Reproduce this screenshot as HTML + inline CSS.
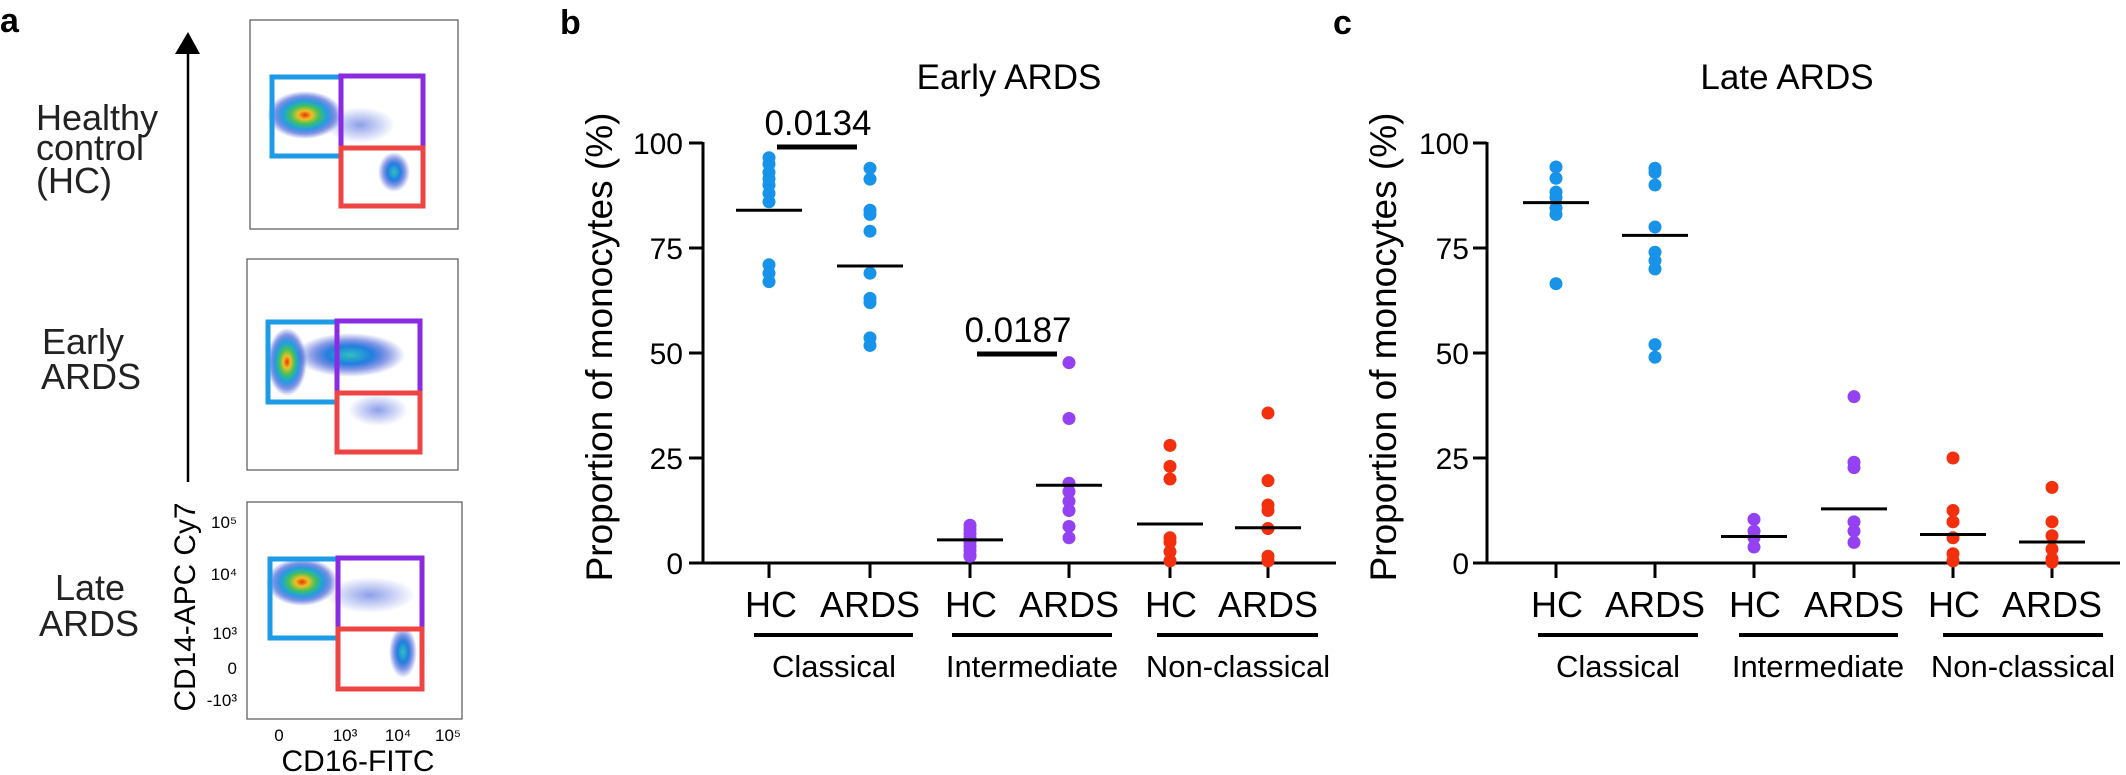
<!DOCTYPE html>
<html><head><meta charset="utf-8"><style>
body{margin:0;background:#fff;}
svg{display:block;font-family:"Liberation Sans",Arial,sans-serif;}
</style></head><body>
<svg width="2126" height="775" viewBox="0 0 2126 775" xmlns="http://www.w3.org/2000/svg">
<defs>
<radialGradient id="hot"><stop offset="0" stop-color="#e83010"/><stop offset="0.18" stop-color="#f0c020"/><stop offset="0.38" stop-color="#40c060"/><stop offset="0.58" stop-color="#20a0e0"/><stop offset="0.8" stop-color="#2040d0" stop-opacity="0.55"/><stop offset="1" stop-color="#2040d0" stop-opacity="0"/></radialGradient>
<radialGradient id="cool"><stop offset="0" stop-color="#30c0c0"/><stop offset="0.4" stop-color="#2080e0"/><stop offset="0.7" stop-color="#2040d0" stop-opacity="0.5"/><stop offset="1" stop-color="#2040d0" stop-opacity="0"/></radialGradient>
<radialGradient id="faint"><stop offset="0" stop-color="#3050d8" stop-opacity="0.55"/><stop offset="1" stop-color="#3050d8" stop-opacity="0"/></radialGradient>
</defs>
<g font-weight="bold" font-size="34"><text x="0" y="32">a</text><text x="560" y="34">b</text><text x="1333" y="34">c</text></g>

<!-- panel a -->
<g font-size="36" fill="#222">
<text x="36" y="130">Healthy</text><text x="36" y="160">control</text><text x="36" y="193">(HC)</text>
<text x="83" y="354" text-anchor="middle">Early</text><text x="91" y="389" text-anchor="middle">ARDS</text>
<text x="90" y="600" text-anchor="middle">Late</text><text x="89" y="636" text-anchor="middle">ARDS</text>
</g>
<line x1="188" y1="50" x2="188" y2="482" stroke="#000" stroke-width="2.5"/>
<polygon points="175,54 200,54 188,32" fill="#000"/>
<text transform="translate(195,607) rotate(-90)" font-size="30" text-anchor="middle" textLength="209" lengthAdjust="spacingAndGlyphs">CD14-APC Cy7</text>
<text x="358" y="771" font-size="30" text-anchor="middle" textLength="153" lengthAdjust="spacingAndGlyphs">CD16-FITC</text>
<g font-size="17" text-anchor="end"><text x="237" y="528">10⁵</text><text x="237" y="580">10⁴</text><text x="237" y="639">10³</text><text x="237" y="674">0</text><text x="237" y="706">-10³</text></g>
<g font-size="17" text-anchor="middle"><text x="279" y="741">0</text><text x="345" y="741">10³</text><text x="398" y="741">10⁴</text><text x="448" y="741">10⁵</text></g>

<rect x="250" y="20" width="208" height="209" fill="#fff" stroke="#555" stroke-width="1.2"/>
<ellipse cx="305" cy="115" rx="38" ry="24" fill="url(#hot)"/>
<ellipse cx="360" cy="125" rx="35" ry="18" fill="url(#faint)"/>
<ellipse cx="394" cy="172" rx="16" ry="20" fill="url(#cool)"/>
<rect x="272" y="77" width="69" height="79" fill="none" stroke="#1e9be6" stroke-width="5"/>
<rect x="341" y="76" width="82" height="72" fill="none" stroke="#8a2be2" stroke-width="5"/>
<rect x="341" y="148" width="82" height="58" fill="none" stroke="#ee4444" stroke-width="5"/>

<rect x="247" y="259" width="211" height="211" fill="#fff" stroke="#555" stroke-width="1.2"/>
<ellipse cx="287" cy="362" rx="20" ry="34" fill="url(#hot)"/>
<ellipse cx="350" cy="355" rx="55" ry="22" fill="url(#cool)"/>
<ellipse cx="378" cy="410" rx="30" ry="16" fill="url(#faint)"/>
<rect x="268" y="322" width="69" height="80" fill="none" stroke="#1e9be6" stroke-width="5"/>
<rect x="337" y="321" width="83" height="72" fill="none" stroke="#8a2be2" stroke-width="5"/>
<rect x="337" y="393" width="83" height="59" fill="none" stroke="#ee4444" stroke-width="5"/>

<rect x="247" y="502" width="215" height="217" fill="#fff" stroke="#555" stroke-width="1.2"/>
<ellipse cx="302" cy="582" rx="36" ry="24" fill="url(#hot)"/>
<ellipse cx="370" cy="595" rx="45" ry="18" fill="url(#faint)"/>
<ellipse cx="403" cy="652" rx="14" ry="26" fill="url(#cool)"/>
<rect x="270" y="559" width="68" height="79" fill="none" stroke="#1e9be6" stroke-width="5"/>
<rect x="338" y="558" width="84" height="71" fill="none" stroke="#8a2be2" stroke-width="5"/>
<rect x="338" y="629" width="84" height="60" fill="none" stroke="#ee4444" stroke-width="5"/>

<!-- panel b -->
<text x="1009" y="89" font-size="35" text-anchor="middle">Early ARDS</text>
<text transform="translate(612,347) rotate(-90)" font-size="37" text-anchor="middle">Proportion of monocytes (%)</text>
<g stroke="#000" stroke-width="3" fill="none">
<line x1="703" y1="142" x2="703" y2="564"/>
<line x1="701" y1="563" x2="1336" y2="563"/>
<line x1="689" y1="143" x2="703" y2="143"/><line x1="689" y1="248" x2="703" y2="248"/><line x1="689" y1="353" x2="703" y2="353"/><line x1="689" y1="458" x2="703" y2="458"/><line x1="689" y1="563" x2="703" y2="563"/>
<line x1="769" y1="563" x2="769" y2="578"/><line x1="870" y1="563" x2="870" y2="578"/><line x1="970" y1="563" x2="970" y2="578"/><line x1="1069" y1="563" x2="1069" y2="578"/><line x1="1170" y1="563" x2="1170" y2="578"/><line x1="1268" y1="563" x2="1268" y2="578"/>
<line x1="754" y1="635" x2="913" y2="635" stroke-width="4"/><line x1="952" y1="635" x2="1112" y2="635" stroke-width="4"/><line x1="1157" y1="635" x2="1318" y2="635" stroke-width="4"/>
<line x1="777" y1="147" x2="857" y2="147" stroke-width="5"/>
<line x1="977" y1="354" x2="1057" y2="354" stroke-width="5"/>
</g>
<g font-size="30" text-anchor="end"><text x="683" y="154">100</text><text x="683" y="259">75</text><text x="683" y="364">50</text><text x="683" y="469">25</text><text x="683" y="574">0</text></g>
<text x="818" y="135" font-size="35" text-anchor="middle">0.0134</text>
<text x="1018" y="342" font-size="35" text-anchor="middle">0.0187</text>
<g font-size="36" text-anchor="middle"><text x="771" y="617">HC</text><text x="870" y="617">ARDS</text><text x="971" y="617">HC</text><text x="1069" y="617">ARDS</text><text x="1171" y="617">HC</text><text x="1268" y="617">ARDS</text></g>
<g font-size="31" text-anchor="middle"><text x="834" y="677">Classical</text><text x="1032" y="677">Intermediate</text><text x="1238" y="677">Non-classical</text></g>

<!-- panel c -->
<text x="1787" y="89" font-size="35" text-anchor="middle">Late ARDS</text>
<text transform="translate(1396,347) rotate(-90)" font-size="37" text-anchor="middle">Proportion of monocytes (%)</text>
<g stroke="#000" stroke-width="3" fill="none">
<line x1="1487" y1="142" x2="1487" y2="564"/>
<line x1="1485" y1="563" x2="2120" y2="563"/>
<line x1="1473" y1="143" x2="1487" y2="143"/><line x1="1473" y1="248" x2="1487" y2="248"/><line x1="1473" y1="353" x2="1487" y2="353"/><line x1="1473" y1="458" x2="1487" y2="458"/><line x1="1473" y1="563" x2="1487" y2="563"/>
<line x1="1556" y1="563" x2="1556" y2="578"/><line x1="1655" y1="563" x2="1655" y2="578"/><line x1="1754" y1="563" x2="1754" y2="578"/><line x1="1854" y1="563" x2="1854" y2="578"/><line x1="1953" y1="563" x2="1953" y2="578"/><line x1="2052" y1="563" x2="2052" y2="578"/>
<line x1="1538" y1="635" x2="1698" y2="635" stroke-width="4"/><line x1="1739" y1="635" x2="1898" y2="635" stroke-width="4"/><line x1="1943" y1="635" x2="2103" y2="635" stroke-width="4"/>
</g>
<g font-size="30" text-anchor="end"><text x="1469" y="154">100</text><text x="1469" y="259">75</text><text x="1469" y="364">50</text><text x="1469" y="469">25</text><text x="1469" y="574">0</text></g>
<g font-size="36" text-anchor="middle"><text x="1557" y="617">HC</text><text x="1655" y="617">ARDS</text><text x="1755" y="617">HC</text><text x="1854" y="617">ARDS</text><text x="1954" y="617">HC</text><text x="2052" y="617">ARDS</text></g>
<g font-size="31" text-anchor="middle"><text x="1618" y="677">Classical</text><text x="1818" y="677">Intermediate</text><text x="2023" y="677">Non-classical</text></g>

<g id="pts"></g>
<script>
(function(){
var g=document.getElementById('pts'),ns='http://www.w3.org/2000/svg';
function Y(v){return 563-v*4.2;}
function grp(x,vals,mean,col){
 vals.forEach(function(v){var c=document.createElementNS(ns,'circle');c.setAttribute('cx',x);c.setAttribute('cy',Y(v));c.setAttribute('r',6.5);c.setAttribute('fill',col);g.appendChild(c);});
 var l=document.createElementNS(ns,'line');l.setAttribute('x1',x-33);l.setAttribute('x2',x+33);l.setAttribute('y1',Y(mean));l.setAttribute('y2',Y(mean));l.setAttribute('stroke','#000');l.setAttribute('stroke-width',3);g.appendChild(l);
}
var B='#1793ea',P='#9341f2',R='#f2300e';
grp(769,[96.5,95,93,91.5,90,88,86,71,69,67],84,B);
grp(870,[94,91.4,84,83,79,69,63,62,53.6,51.8],70.7,B);
grp(970,[9,8,7,6,5,4,3,2,1.6],5.5,P);
grp(1069,[47.7,34.4,19,17,14.7,12.5,8.7,6],18.5,P);
grp(1170,[28,23,20,6,5,2.7,0.5],9.3,R);
grp(1268,[35.7,19.6,13.8,12.5,8.2,1.6,0.5],8.4,R);
grp(1556,[94.3,91.6,88.3,87,84.5,83,66.5],85.8,B);
grp(1655,[94,93,90,80,74,72,70,52,49],78,B);
grp(1754,[10.4,7.6,6,3.8],6.3,P);
grp(1854,[39.6,24,22.7,9.8,7.6,4.9],12.9,P);
grp(1953,[25,12.5,9.8,6,2.2,0.5],6.8,R);
grp(2052,[18,9.8,6.5,3.3,1,0.2],5,R);
})();
</script>
</svg>
</body></html>
